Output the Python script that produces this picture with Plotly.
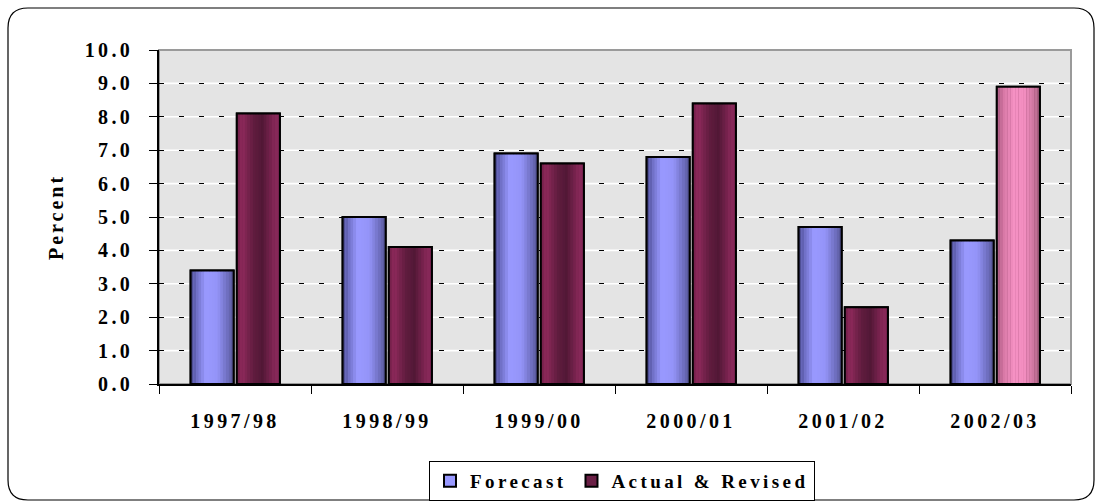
import plotly.graph_objects as go

# Fiscal years and growth rates (percent)
years = ["1997/98", "1998/99", "1999/00", "2000/01", "2001/02", "2002/03"]
forecast = [3.4, 5.0, 6.9, 6.8, 4.7, 4.3]
actual = [8.1, 4.1, 6.6, 8.4, 2.3, 8.9]
y_ticks = [0, 1, 2, 3, 4, 5, 6, 7, 8, 9, 10]

FONT = "Liberation Serif, Times New Roman, serif"
FS = 20


def spaced(text, gap=3.4):
    """Wrap a label so it is drawn with extra letter spacing."""
    return "<span style='letter-spacing:%.1fpx'>%s</span>" % (gap, text)


# Colour profiles across a bar's width (position 0..1 -> rgb), giving a cylinder look
BLUE = [(0.0, (70, 70, 135)), (0.12, (105, 105, 190)), (0.35, (153, 153, 255)),
        (0.62, (148, 148, 248)), (0.85, (110, 110, 190)), (1.0, (85, 85, 150))]
MAROON = [(0.0, (110, 30, 70)), (0.12, (143, 42, 92)), (0.4, (95, 28, 62)),
          (0.6, (82, 24, 54)), (0.85, (130, 38, 85)), (1.0, (140, 42, 92))]
PINK = [(0.0, (170, 90, 130)), (0.15, (215, 120, 165)), (0.4, (245, 145, 195)),
        (0.65, (242, 142, 192)), (0.88, (200, 115, 155)), (1.0, (165, 95, 128))]


def shade(profile, t):
    for (t0, c0), (t1, c1) in zip(profile, profile[1:]):
        if t0 <= t <= t1:
            f = (t - t0) / (t1 - t0) if t1 > t0 else 0
            return "rgb(%d,%d,%d)" % tuple(round(a + (b - a) * f) for a, b in zip(c0, c1))
    return "rgb(%d,%d,%d)" % profile[-1][1]


BAR_W = 0.283
F_OFF = -0.292
A_OFF = 0.012
N_STRIPS = 16

fig = go.Figure()

# Base bars (also provide the legend entries)
fig.add_trace(go.Bar(x=years, y=forecast, name=spaced("Forecast"), offset=F_OFF,
                     width=BAR_W,
                     marker=dict(color="#9999ff", line=dict(color="black", width=2)),
                     hoverinfo="skip"))
fig.add_trace(go.Bar(x=years, y=actual, name=spaced("Actual & Revised"), offset=A_OFF,
                     width=BAR_W,
                     marker=dict(color="#6a1f45", line=dict(color="black", width=2)),
                     hoverinfo="skip"))

# Shaded strips over each bar
sw = BAR_W / N_STRIPS
for i in range(N_STRIPS):
    t = (i + 0.5) / N_STRIPS
    fig.add_trace(go.Bar(x=years, y=forecast, offset=F_OFF + i * sw, width=sw * 1.08,
                         marker=dict(color=shade(BLUE, t), line=dict(width=0)),
                         showlegend=False, hoverinfo="skip"))
    acols = [shade(MAROON, t)] * (len(years) - 1) + [shade(PINK, t)]
    fig.add_trace(go.Bar(x=years, y=actual, offset=A_OFF + i * sw, width=sw * 1.08,
                         marker=dict(color=acols, line=dict(width=0)),
                         showlegend=False, hoverinfo="skip"))

# Black frames on top
for vals, off in ((forecast, F_OFF), (actual, A_OFF)):
    fig.add_trace(go.Bar(x=years, y=vals, offset=off, width=BAR_W,
                         marker=dict(color="rgba(0,0,0,0)", line=dict(color="black", width=2)),
                         showlegend=False, hoverinfo="skip"))

# Plot-area geometry in pixels, used for the outer frame
L, T, W, H = 159, 50, 912, 334


def px(x):
    return (x - L) / W


def py(y):
    return (T + H - y) / H


x0, y0, x1, y1, r = 8, 8, 1094, 500, 20
frame = ("M {a},{b} L {c},{b} Q {d},{b} {d},{e} L {d},{f} Q {d},{g} {c},{g} "
         "L {a},{g} Q {h},{g} {h},{f} L {h},{e} Q {h},{b} {a},{b} Z").format(
    a=px(x0 + r), b=py(y0), c=px(x1 - r), d=px(x1), e=py(y0 + r),
    f=py(y1 - r), g=py(y1), h=px(x0))

shapes = [dict(type="path", path=frame, xref="paper", yref="paper",
               line=dict(color="black", width=1.2), fillcolor="rgba(0,0,0,0)")]
# white gridline underlay beneath the dashed grid
for v in y_ticks[1:-1]:
    shapes.append(dict(type="line", xref="paper", yref="y", x0=0, x1=1, y0=v, y1=v,
                       line=dict(color="white", width=1.6), layer="below"))
# gray top/right edge of plot area
shapes.append(dict(type="rect", xref="paper", yref="paper", x0=0, x1=1, y0=0, y1=1,
                   line=dict(color="#9a9a9a", width=2), layer="below"))

fig.update_layout(
    width=1101, height=504,
    margin=dict(l=L, r=1101 - L - W, t=T, b=504 - T - H, autoexpand=False),
    paper_bgcolor="white",
    plot_bgcolor="#e4e4e4",
    barmode="overlay",
    shapes=shapes,
    font=dict(family=FONT, color="black"),
    legend=dict(orientation="h", x=px(622), xanchor="center", y=py(461), yanchor="top",
                bordercolor="black", borderwidth=1, bgcolor="white",
                font=dict(family=FONT, size=19, weight="bold"),
                traceorder="normal", itemwidth=30),
    showlegend=True,
)

fig.update_xaxes(
    type="category", showgrid=False, showline=True, linecolor="black", linewidth=1.5,
    ticks="outside", tickson="boundaries", ticklen=8, tickcolor="black", tickwidth=1,
    tickvals=years, ticktext=[spaced(y) for y in years], automargin=False,
    tickfont=dict(family=FONT, size=FS, weight="bold"), ticklabelstandoff=18,
)
fig.update_yaxes(
    range=[0, 10], tickvals=y_ticks, ticktext=[spaced("%.1f" % v) for v in y_ticks],
    showline=True, linecolor="black", linewidth=1.5, automargin=False,
    ticks="outside", ticklen=8, tickcolor="black",
    showgrid=True, gridcolor="black", gridwidth=1, griddash="5px,15px",
    zeroline=False, ticklabelstandoff=12,
    tickfont=dict(family=FONT, size=FS, weight="bold"),
    title=dict(text=spaced("Percent", 3.0), font=dict(family=FONT, size=FS, weight="bold"),
               standoff=16),
)

fig.write_html("out.html")
